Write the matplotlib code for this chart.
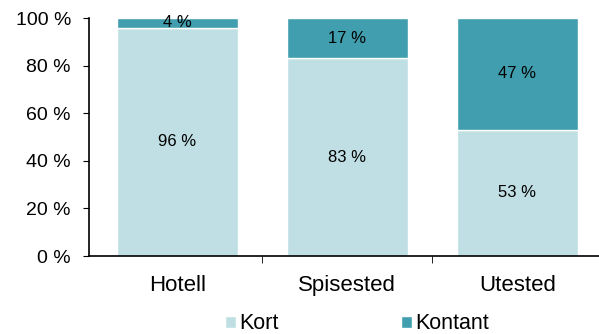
import matplotlib.pyplot as plt
import numpy as np

plt.rcParams['font.family'] = ['Liberation Sans', 'DejaVu Sans']

categories = ['Hotell', 'Spisested', 'Utested']
kort = [96, 83, 53]
kontant = [4, 17, 47]

light = '#c0dfe4'
dark = '#409eae'

fig = plt.figure(figsize=(5.99, 3.34), dpi=100)
ax = fig.add_axes([0.1486, 0.2335, 0.8514, 0.7125])

x = np.arange(len(categories))
ax.bar(x, kort, width=0.71, color=light, edgecolor='white', linewidth=1, label='Kort')
ax.bar(x, kontant, width=0.71, bottom=kort, color=dark, edgecolor='white', linewidth=1, label='Kontant')

# value labels centred in each segment
for i in range(len(categories)):
    ax.text(x[i], kort[i] / 2, f'{kort[i]} %', ha='center', va='center', fontsize=12)
    ax.text(x[i], kort[i] + kontant[i] / 2, f'{kontant[i]} %', ha='center', va='center', fontsize=12)

ax.set_xlim(-0.52, 2.48)
ax.set_ylim(0, 100)
ax.set_yticks(range(0, 101, 20))
ax.set_yticklabels([f'{v} %' for v in range(0, 101, 20)], fontsize=14)
ax.set_xticks(x)
ax.set_xticklabels(categories, fontsize=16)
ax.tick_params(axis='x', length=0, pad=14)
ax.set_xticks([0.5, 1.5], minor=True)
ax.tick_params(axis='x', which='minor', length=5, direction='out')
ax.tick_params(axis='y', length=4, direction='out', pad=9)

for side in ['top', 'right']:
    ax.spines[side].set_visible(False)
for side in ['left', 'bottom']:
    ax.spines[side].set_linewidth(1.2)

ax.legend(loc='center', bbox_to_anchor=(0.525, -0.285), ncol=2, frameon=False,
          fontsize=15.5, handlelength=0.5, handleheight=0.5, handletextpad=0.15,
          columnspacing=5.7, borderaxespad=0, borderpad=0)

fig.savefig('out.png', dpi=100)
